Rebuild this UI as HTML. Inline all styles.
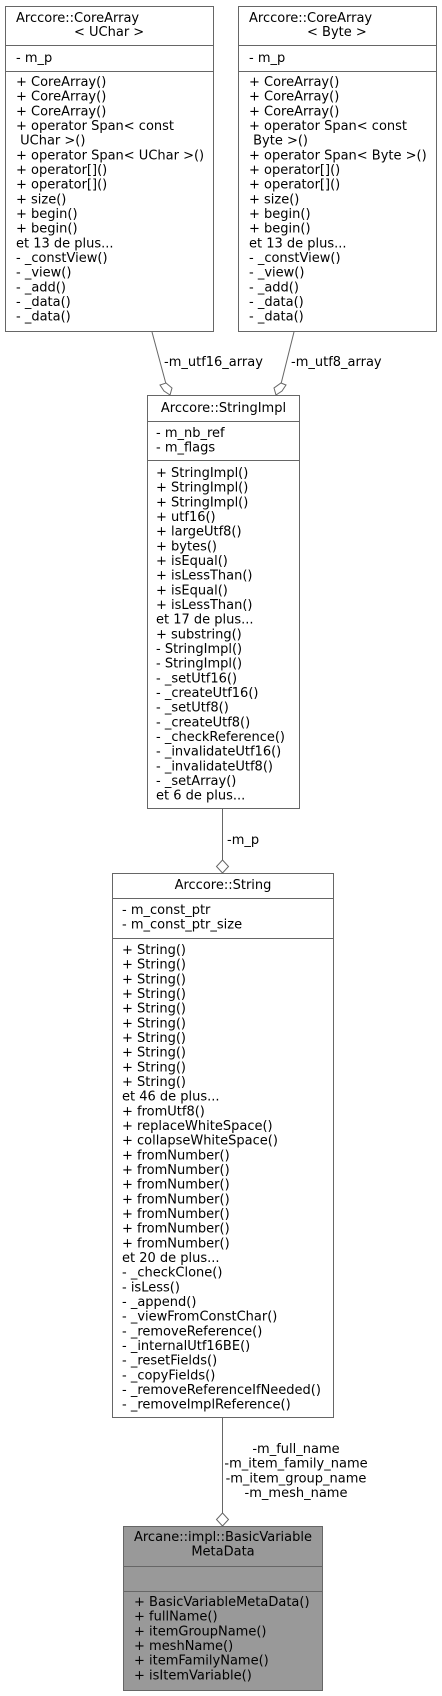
<!DOCTYPE html>
<html><head><meta charset="utf-8"><style>
html,body{margin:0;padding:0;background:#fff;}
svg{display:block;}
text{font-family:"DejaVu Sans","Liberation Sans",sans-serif;font-size:13px;fill:#000;}
</style></head><body>
<svg width="442" height="1696" viewBox="0 0 442 1696" xmlns="http://www.w3.org/2000/svg">
<g stroke="#666" stroke-width="1" fill="#fff">
<rect x="5.5" y="6.5" width="208" height="325"/>
<line x1="5.5" y1="45.5" x2="213.5" y2="45.5"/>
<line x1="5.5" y1="71.5" x2="213.5" y2="71.5"/>
<rect x="238.5" y="6.5" width="198" height="325"/>
<line x1="238.5" y1="45.5" x2="436.5" y2="45.5"/>
<line x1="238.5" y1="71.5" x2="436.5" y2="71.5"/>
<rect x="147.5" y="395.5" width="152" height="413"/>
<line x1="147.5" y1="421.5" x2="299.5" y2="421.5"/>
<line x1="147.5" y1="460.5" x2="299.5" y2="460.5"/>
<rect x="112.5" y="873.5" width="221" height="544"/>
<line x1="112.5" y1="898.5" x2="333.5" y2="898.5"/>
<line x1="112.5" y1="938.5" x2="333.5" y2="938.5"/>
<rect x="123.5" y="1526.5" width="199" height="164" fill="#999"/>
<line x1="123.5" y1="1566.5" x2="322.5" y2="1566.5"/>
<line x1="123.5" y1="1591.5" x2="322.5" y2="1591.5"/>
<line x1="152" y1="332" x2="166" y2="384"/>
<polygon points="166,383 172,388 170,395 164,391 160,385"/>
<line x1="294" y1="332" x2="281" y2="384"/>
<polygon points="281,383 286,385 282,391 276,395 274,388"/>
<line x1="222.5" y1="809" x2="222.5" y2="861"/>
<polygon points="222.5,860 228.5,866.5 222.5,873 216.5,866.5"/>
<line x1="222.5" y1="1418" x2="222.5" y2="1514"/>
<polygon points="222.5,1513 228.5,1519.5 222.5,1526 216.5,1519.5"/>
</g>
<text x="16" y="22">Arccore::CoreArray</text>
<text x="74" y="36">&lt; UChar &gt;</text>
<text x="16" y="62">- m_p</text>
<g>
<text x="16" y="86">+ CoreArray()</text>
<text x="16" y="100.7">+ CoreArray()</text>
<text x="16" y="115.3">+ CoreArray()</text>
<text x="16" y="130">+ operator Span&lt; const</text>
<text x="16" y="144.7"> &#160;UChar &gt;()</text>
<text x="16" y="159.3">+ operator Span&lt; UChar &gt;()</text>
<text x="16" y="174">+ operator[]()</text>
<text x="16" y="188.7">+ operator[]()</text>
<text x="16" y="203.3">+ size()</text>
<text x="16" y="218">+ begin()</text>
<text x="16" y="232.7">+ begin()</text>
<text x="16" y="247.3">et 13 de plus...</text>
<text x="16" y="262">- _constView()</text>
<text x="16" y="276.7">- _view()</text>
<text x="16" y="291.3">- _add()</text>
<text x="16" y="306">- _data()</text>
<text x="16" y="320.7">- _data()</text>
</g>
<text x="249" y="22">Arccore::CoreArray</text>
<text x="307" y="36">&lt; Byte &gt;</text>
<text x="249" y="62">- m_p</text>
<g>
<text x="249" y="86">+ CoreArray()</text>
<text x="249" y="100.7">+ CoreArray()</text>
<text x="249" y="115.3">+ CoreArray()</text>
<text x="249" y="130">+ operator Span&lt; const</text>
<text x="249" y="144.7"> &#160;Byte &gt;()</text>
<text x="249" y="159.3">+ operator Span&lt; Byte &gt;()</text>
<text x="249" y="174">+ operator[]()</text>
<text x="249" y="188.7">+ operator[]()</text>
<text x="249" y="203.3">+ size()</text>
<text x="249" y="218">+ begin()</text>
<text x="249" y="232.7">+ begin()</text>
<text x="249" y="247.3">et 13 de plus...</text>
<text x="249" y="262">- _constView()</text>
<text x="249" y="276.7">- _view()</text>
<text x="249" y="291.3">- _add()</text>
<text x="249" y="306">- _data()</text>
<text x="249" y="320.7">- _data()</text>
</g>
<text x="164" y="366">-m_utf16_array</text>
<text x="291" y="366">-m_utf8_array</text>
<text x="223.5" y="412" text-anchor="middle">Arccore::StringImpl</text>
<text x="156" y="437">- m_nb_ref</text>
<text x="156" y="451.7">- m_flags</text>
<g>
<text x="156" y="477">+ StringImpl()</text>
<text x="156" y="491.7">+ StringImpl()</text>
<text x="156" y="506.3">+ StringImpl()</text>
<text x="156" y="521">+ utf16()</text>
<text x="156" y="535.7">+ largeUtf8()</text>
<text x="156" y="550.3">+ bytes()</text>
<text x="156" y="565">+ isEqual()</text>
<text x="156" y="579.7">+ isLessThan()</text>
<text x="156" y="594.3">+ isEqual()</text>
<text x="156" y="609">+ isLessThan()</text>
<text x="156" y="623.7">et 17 de plus...</text>
<text x="156" y="638.3">+ substring()</text>
<text x="156" y="653">- StringImpl()</text>
<text x="156" y="667.7">- StringImpl()</text>
<text x="156" y="682.3">- _setUtf16()</text>
<text x="156" y="697">- _createUtf16()</text>
<text x="156" y="711.7">- _setUtf8()</text>
<text x="156" y="726.3">- _createUtf8()</text>
<text x="156" y="741">- _checkReference()</text>
<text x="156" y="755.7">- _invalidateUtf16()</text>
<text x="156" y="770.3">- _invalidateUtf8()</text>
<text x="156" y="785">- _setArray()</text>
<text x="156" y="799.7">et 6 de plus...</text>
</g>
<text x="227" y="844">-m_p</text>
<text x="223" y="889" text-anchor="middle">Arccore::String</text>
<text x="122" y="914">- m_const_ptr</text>
<text x="122" y="928.7">- m_const_ptr_size</text>
<g>
<text x="122" y="954">+ String()</text>
<text x="122" y="968.7">+ String()</text>
<text x="122" y="983.3">+ String()</text>
<text x="122" y="998">+ String()</text>
<text x="122" y="1012.7">+ String()</text>
<text x="122" y="1027.3">+ String()</text>
<text x="122" y="1042">+ String()</text>
<text x="122" y="1056.7">+ String()</text>
<text x="122" y="1071.3">+ String()</text>
<text x="122" y="1086">+ String()</text>
<text x="122" y="1100.7">et 46 de plus...</text>
<text x="122" y="1115.3">+ fromUtf8()</text>
<text x="122" y="1130">+ replaceWhiteSpace()</text>
<text x="122" y="1144.7">+ collapseWhiteSpace()</text>
<text x="122" y="1159.3">+ fromNumber()</text>
<text x="122" y="1174">+ fromNumber()</text>
<text x="122" y="1188.7">+ fromNumber()</text>
<text x="122" y="1203.3">+ fromNumber()</text>
<text x="122" y="1218">+ fromNumber()</text>
<text x="122" y="1232.7">+ fromNumber()</text>
<text x="122" y="1247.3">+ fromNumber()</text>
<text x="122" y="1262">et 20 de plus...</text>
<text x="122" y="1276.7">- _checkClone()</text>
<text x="122" y="1291.3">- isLess()</text>
<text x="122" y="1306">- _append()</text>
<text x="122" y="1320.7">- _viewFromConstChar()</text>
<text x="122" y="1335.3">- _removeReference()</text>
<text x="122" y="1350">- _internalUtf16BE()</text>
<text x="122" y="1364.7">- _resetFields()</text>
<text x="122" y="1379.3">- _copyFields()</text>
<text x="122" y="1394">- _removeReferenceIfNeeded()</text>
<text x="122" y="1408.7">- _removeImplReference()</text>
</g>
<text x="296" y="1453" text-anchor="middle">-m_full_name</text>
<text x="296" y="1467.7" text-anchor="middle">-m_item_family_name</text>
<text x="296" y="1482.3" text-anchor="middle">-m_item_group_name</text>
<text x="296" y="1497" text-anchor="middle">-m_mesh_name</text>
<text x="223" y="1541" text-anchor="middle">Arcane::impl::BasicVariable</text>
<text x="223" y="1555.7" text-anchor="middle">MetaData</text>
<g>
<text x="134" y="1606">+ BasicVariableMetaData()</text>
<text x="134" y="1620.7">+ fullName()</text>
<text x="134" y="1635.3">+ itemGroupName()</text>
<text x="134" y="1650">+ meshName()</text>
<text x="134" y="1664.7">+ itemFamilyName()</text>
<text x="134" y="1679.3">+ isItemVariable()</text>
</g>
</svg>
</body></html>
